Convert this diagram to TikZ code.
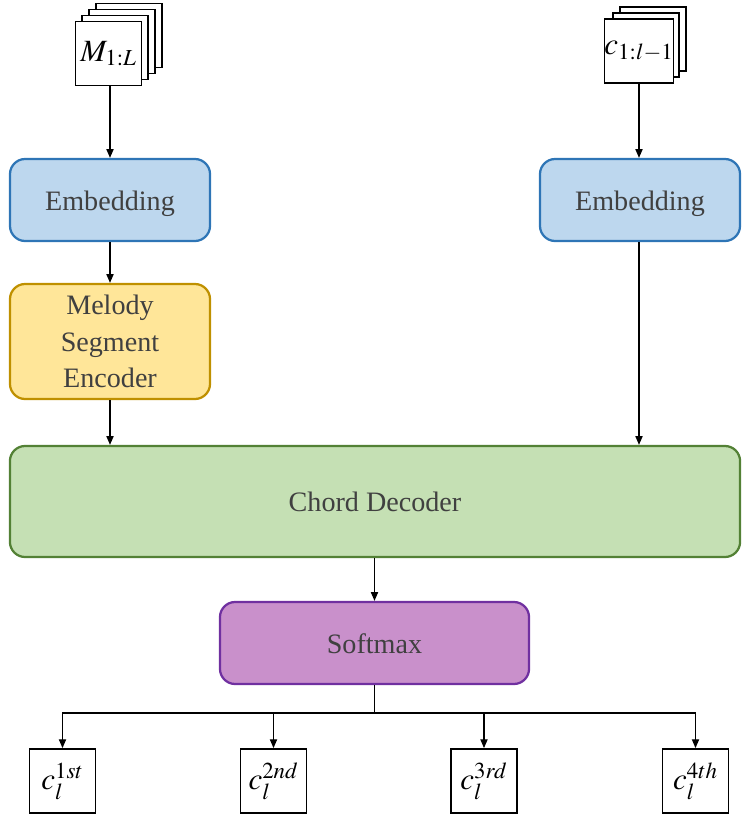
\documentclass[tikz,border=0pt]{standalone}
\usepackage{mathptmx}
\usepackage{fontspec}
\setmainfont{Liberation Serif}
\usepackage{tikz}
\usetikzlibrary{arrows.meta,positioning}

\definecolor{embfill}{HTML}{BDD7EE}
\definecolor{embdraw}{HTML}{2E75B6}
\definecolor{encfill}{HTML}{FFE699}
\definecolor{encdraw}{HTML}{BF9000}
\definecolor{decfill}{HTML}{C5E0B4}
\definecolor{decdraw}{HTML}{538135}
\definecolor{smfill}{HTML}{C990CB}
\definecolor{smdraw}{HTML}{7030A0}
\definecolor{txtgray}{HTML}{404040}

\begin{document}
\begin{tikzpicture}[
  x=0.025cm, y=-0.025cm,
  bloco/.style={draw, line width=1.6pt, rounded corners=0.38cm, align=center,
                font=\fontsize{20}{26}\selectfont, text=txtgray,
                minimum width=5cm, minimum height=2.05cm},
  linha/.style={text height=19pt, text depth=4.4pt},
  folha/.style={draw, line width=1.3pt, fill=white, minimum width=1.65cm,
                minimum height=1.6cm, inner sep=0pt, font=\fontsize{22}{26}\selectfont},
  seta/.style={-{Triangle[length=2.2mm,width=1.8mm]}, line width=0.9pt}
]
\useasboundingbox (0,0) rectangle (749,816);

% pilhas de entrada
\foreach \i in {3,2,1}
  \node[folha] (mb\i) at (108.5+6.7*\i, 53.5-6*\i) {};
\node[folha] (mel) at (108.5,53.5) {$M_{1:L}$};
\foreach \i in {2,1}
  \node[folha] (cb\i) at (639+7*\i, 51-6*\i) {};
\node[folha] (hist) at (639,51) {$c_{1:l-1}$};

% blocos
\node[bloco, linha, fill=embfill, draw=embdraw] (embm) at (110,200) {Embedding};
\node[bloco, linha, fill=embfill, draw=embdraw] (embc) at (640,200) {Embedding};
\node[bloco, fill=encfill, draw=encdraw, minimum height=2.875cm] (enc) at (110,341.5) {Melody\\Segment\\Encoder};
\node[bloco, linha, fill=decfill, draw=decdraw, minimum width=18.25cm, minimum height=2.775cm] (dec) at (375,501.5) {Chord Decoder};
\node[bloco, linha, fill=smfill, draw=smdraw, minimum width=7.725cm] (sm) at (374.5,643) {Softmax};

% saidas
\node[folha] (o1) at (62.5,781) {$c_l^{1st}$};
\node[folha] (o2) at (273.5,781) {$c_l^{2nd}$};
\node[folha] (o3) at (484,781) {$c_l^{3rd}$};
\node[folha] (o4) at (695.5,781) {$c_l^{4th}$};
\coordinate (ramo) at (374.5,713);

\draw[seta] (mel.south -| embm) -- (embm.north);
\draw[seta] (embm) -- (enc);
\draw[seta] (enc.south) -- (enc.south |- dec.north);
\draw[seta] (hist.south) -- (hist.south |- embc.north);
\draw[seta] (embc.south -| hist) -- (hist |- dec.north);
\draw[seta] (dec.south -| sm) -- (sm.north);
\draw[line width=0.9pt] (sm.south) -- (ramo);
\foreach \o in {o1,o2,o3,o4}
  \draw[seta] (ramo) -| (\o.north);
\end{tikzpicture}
\end{document}
